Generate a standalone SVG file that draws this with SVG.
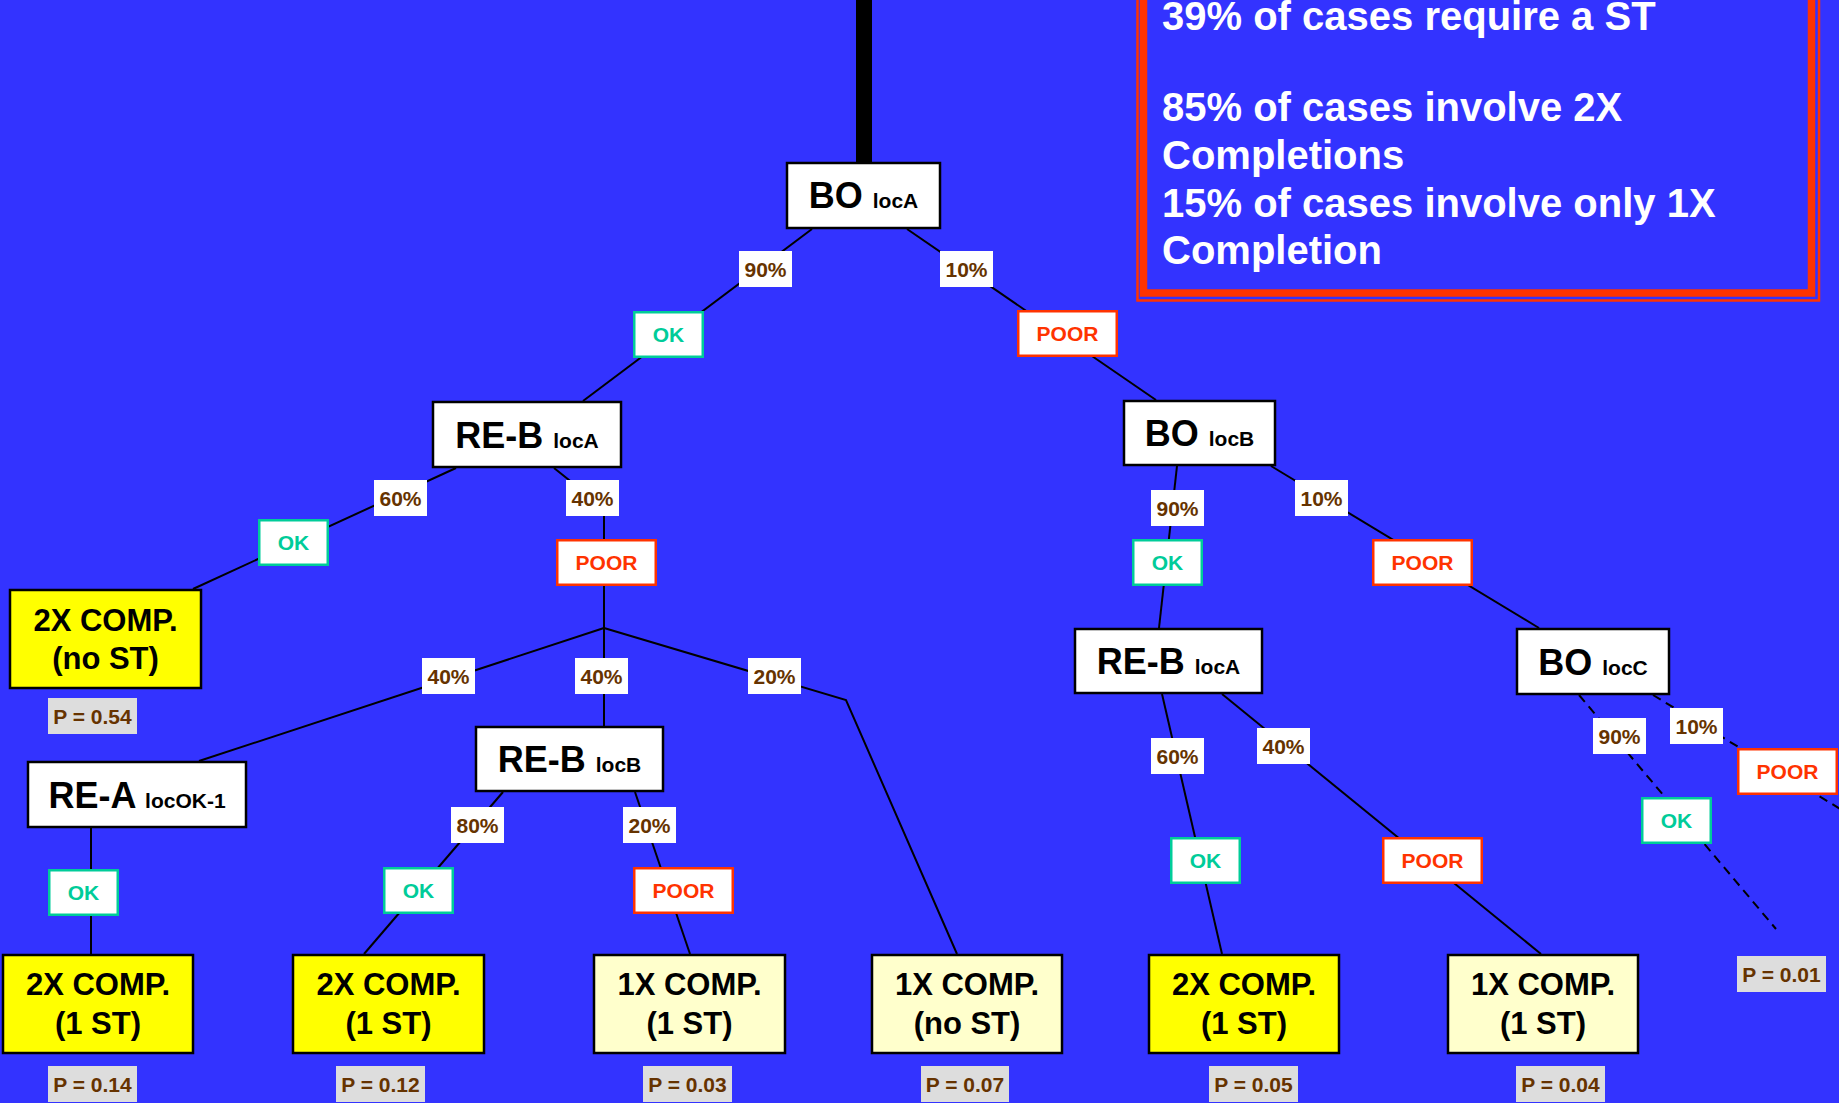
<svg xmlns="http://www.w3.org/2000/svg" width="1839" height="1103" viewBox="0 0 1839 1103">
<style>
text{font-family:"Liberation Sans",Arial,sans-serif;font-weight:bold}
.node rect{fill:#fff;stroke:#000;stroke-width:2.5}
.node text{fill:#000;text-anchor:middle}
.big{font-size:36px}
.sub{font-size:21px}
.leaf rect{stroke:#000;stroke-width:2.5}
.leaf text{fill:#000;font-size:31px;text-anchor:middle}
.y2 rect{fill:#FFFF00}
.y1 rect{fill:#FFFFCC}
.pct rect{fill:#fff}
.pct text{fill:#663300;font-size:21px;text-anchor:middle}
.ok rect{fill:#fff;stroke:#00CC99;stroke-width:2.5}
.ok text{fill:#00CC99;font-size:21px;text-anchor:middle}
.poor rect{fill:#fff;stroke:#FF3300;stroke-width:2.5}
.poor text{fill:#FF3300;font-size:21px;text-anchor:middle}
.prob rect{fill:#DDDDDD}
.prob text{fill:#663300;font-size:21px;text-anchor:middle}
.conn line,.conn polyline{stroke:#000;stroke-width:2;fill:none}
.conn .dash{stroke-dasharray:9 6}
.note text{fill:#fff;font-size:40px}
</style>
<rect x="0" y="0" width="1839" height="1103" fill="#3333FF"/>

<g id="note" class="note">
<rect x="1137.5" y="-10" width="681.5" height="310.5" fill="none" stroke="#FF3300" stroke-width="2.5"/>
<rect x="1143.5" y="-10" width="668" height="303" fill="none" stroke="#FF3300" stroke-width="7.5"/>
<text x="1162" y="30">39% of cases require a ST</text>
<text x="1162" y="121">85% of cases involve 2X</text>
<text x="1162" y="169">Completions</text>
<text x="1162" y="217">15% of cases involve only 1X</text>
<text x="1162" y="264">Completion</text>
</g>

<g id="connectors" class="conn">
<line x1="864" y1="0" x2="864" y2="163" style="stroke-width:16"/>
<line x1="812" y1="229" x2="583" y2="401"/>
<line x1="907" y1="229" x2="1156" y2="400"/>
<line x1="456" y1="468" x2="193" y2="589"/>
<polyline points="554,468 604,508 604,628"/>
<line x1="604" y1="628" x2="199" y2="761"/>
<line x1="604" y1="628" x2="604" y2="726"/>
<polyline points="604,628 846,700 957,954"/>
<line x1="91" y1="828" x2="91" y2="954"/>
<line x1="503" y1="792" x2="364" y2="954"/>
<line x1="635" y1="792" x2="690" y2="954"/>
<line x1="1177" y1="466" x2="1159" y2="628"/>
<line x1="1271" y1="466" x2="1539" y2="628"/>
<line x1="1162" y1="694" x2="1222" y2="954"/>
<line x1="1222" y1="694" x2="1541" y2="954"/>
<line class="dash" x1="1579" y1="695" x2="1776" y2="929"/>
<line class="dash" x1="1653" y1="695" x2="1860" y2="821"/>
</g>

<g id="n-bo-loca" class="node"><rect x="787" y="163" width="153" height="65"/><text x="863.5" y="208"><tspan class="big">BO </tspan><tspan class="sub">locA</tspan></text></g>
<g id="n-reb-loca-l" class="node"><rect x="433" y="402" width="188" height="65"/><text x="527" y="448"><tspan class="big">RE-B </tspan><tspan class="sub">locA</tspan></text></g>
<g id="n-bo-locb" class="node"><rect x="1124" y="401" width="151" height="64"/><text x="1199.5" y="446"><tspan class="big">BO </tspan><tspan class="sub">locB</tspan></text></g>
<g id="n-reb-loca-r" class="node"><rect x="1075" y="629" width="187" height="64"/><text x="1168.5" y="674"><tspan class="big">RE-B </tspan><tspan class="sub">locA</tspan></text></g>
<g id="n-bo-locc" class="node"><rect x="1517" y="629" width="152" height="65"/><text x="1593" y="675"><tspan class="big">BO </tspan><tspan class="sub">locC</tspan></text></g>
<g id="n-reb-locb" class="node"><rect x="476" y="727" width="187" height="64"/><text x="569.5" y="772"><tspan class="big">RE-B </tspan><tspan class="sub">locB</tspan></text></g>
<g id="n-rea" class="node"><rect x="28" y="762" width="218" height="65"/><text x="137" y="808"><tspan class="big">RE-A </tspan><tspan class="sub">locOK-1</tspan></text></g>

<g id="leaf-1" class="leaf y2"><rect x="10" y="590" width="191" height="98"/><text x="105.5" y="631">2X COMP.</text><text x="105.5" y="669">(no ST)</text></g>
<g id="leaf-2" class="leaf y2"><rect x="3" y="955" width="190" height="98"/><text x="98" y="995">2X COMP.</text><text x="98" y="1034">(1 ST)</text></g>
<g id="leaf-3" class="leaf y2"><rect x="293" y="955" width="191" height="98"/><text x="388.5" y="995">2X COMP.</text><text x="388.5" y="1034">(1 ST)</text></g>
<g id="leaf-4" class="leaf y1"><rect x="594" y="955" width="191" height="98"/><text x="689.5" y="995">1X COMP.</text><text x="689.5" y="1034">(1 ST)</text></g>
<g id="leaf-5" class="leaf y1"><rect x="872" y="955" width="190" height="98"/><text x="967" y="995">1X COMP.</text><text x="967" y="1034">(no ST)</text></g>
<g id="leaf-6" class="leaf y2"><rect x="1149" y="955" width="190" height="98"/><text x="1244" y="995">2X COMP.</text><text x="1244" y="1034">(1 ST)</text></g>
<g id="leaf-7" class="leaf y1"><rect x="1448" y="955" width="190" height="98"/><text x="1543" y="995">1X COMP.</text><text x="1543" y="1034">(1 ST)</text></g>

<g id="p-054" class="prob"><rect x="48" y="698" width="89" height="36"/><text x="92.5" y="724">P = 0.54</text></g>
<g id="p-014" class="prob"><rect x="48" y="1066" width="89" height="36"/><text x="92.5" y="1092">P = 0.14</text></g>
<g id="p-012" class="prob"><rect x="336" y="1066" width="89" height="36"/><text x="380.5" y="1092">P = 0.12</text></g>
<g id="p-003" class="prob"><rect x="643" y="1066" width="89" height="36"/><text x="687.5" y="1092">P = 0.03</text></g>
<g id="p-007" class="prob"><rect x="921" y="1066" width="88" height="36"/><text x="965" y="1092">P = 0.07</text></g>
<g id="p-005" class="prob"><rect x="1209" y="1066" width="89" height="36"/><text x="1253.5" y="1092">P = 0.05</text></g>
<g id="p-004" class="prob"><rect x="1516" y="1066" width="89" height="36"/><text x="1560.5" y="1092">P = 0.04</text></g>
<g id="p-001" class="prob"><rect x="1737" y="956" width="89" height="36"/><text x="1781.5" y="982">P = 0.01</text></g>

<g id="pct-1" class="pct"><rect x="739" y="251" width="53" height="36"/><text x="765.5" y="276.5">90%</text></g>
<g id="pct-2" class="pct"><rect x="940" y="251" width="53" height="36"/><text x="966.5" y="276.5">10%</text></g>
<g id="pct-3" class="pct"><rect x="374" y="480" width="53" height="36"/><text x="400.5" y="505.5">60%</text></g>
<g id="pct-4" class="pct"><rect x="566" y="480" width="53" height="36"/><text x="592.5" y="505.5">40%</text></g>
<g id="pct-5" class="pct"><rect x="422" y="658" width="53" height="36"/><text x="448.5" y="683.5">40%</text></g>
<g id="pct-6" class="pct"><rect x="575" y="658" width="53" height="36"/><text x="601.5" y="683.5">40%</text></g>
<g id="pct-7" class="pct"><rect x="748" y="658" width="53" height="36"/><text x="774.5" y="683.5">20%</text></g>
<g id="pct-8" class="pct"><rect x="451" y="807" width="53" height="36"/><text x="477.5" y="832.5">80%</text></g>
<g id="pct-9" class="pct"><rect x="623" y="807" width="53" height="36"/><text x="649.5" y="832.5">20%</text></g>
<g id="pct-10" class="pct"><rect x="1151" y="490" width="53" height="36"/><text x="1177.5" y="515.5">90%</text></g>
<g id="pct-11" class="pct"><rect x="1295" y="480" width="53" height="36"/><text x="1321.5" y="505.5">10%</text></g>
<g id="pct-12" class="pct"><rect x="1151" y="738" width="53" height="36"/><text x="1177.5" y="763.5">60%</text></g>
<g id="pct-13" class="pct"><rect x="1257" y="728" width="53" height="36"/><text x="1283.5" y="753.5">40%</text></g>
<g id="pct-14" class="pct"><rect x="1593" y="718" width="53" height="36"/><text x="1619.5" y="743.5">90%</text></g>
<g id="pct-15" class="pct"><rect x="1670" y="708" width="53" height="36"/><text x="1696.5" y="733.5">10%</text></g>

<g id="ok-1" class="ok"><rect x="634.25" y="312.25" width="68.5" height="44.5"/><text x="668.5" y="342">OK</text></g>
<g id="ok-2" class="ok"><rect x="259.25" y="520.25" width="68.5" height="44.5"/><text x="293.5" y="550">OK</text></g>
<g id="ok-3" class="ok"><rect x="49.25" y="870.25" width="68.5" height="44.5"/><text x="83.5" y="900">OK</text></g>
<g id="ok-4" class="ok"><rect x="384.25" y="868.25" width="68.5" height="44.5"/><text x="418.5" y="898">OK</text></g>
<g id="ok-5" class="ok"><rect x="1133.25" y="540.25" width="68.5" height="44.5"/><text x="1167.5" y="570">OK</text></g>
<g id="ok-6" class="ok"><rect x="1171.25" y="838.25" width="68.5" height="44.5"/><text x="1205.5" y="868">OK</text></g>
<g id="ok-7" class="ok"><rect x="1642.25" y="798.25" width="68.5" height="44.5"/><text x="1676.5" y="828">OK</text></g>

<g id="poor-1" class="poor"><rect x="1018.25" y="311.25" width="98.5" height="44.5"/><text x="1067.5" y="341">POOR</text></g>
<g id="poor-2" class="poor"><rect x="557.25" y="540.25" width="98.5" height="44.5"/><text x="606.5" y="570">POOR</text></g>
<g id="poor-3" class="poor"><rect x="634.25" y="868.25" width="98.5" height="44.5"/><text x="683.5" y="898">POOR</text></g>
<g id="poor-4" class="poor"><rect x="1373.25" y="540.25" width="98.5" height="44.5"/><text x="1422.5" y="570">POOR</text></g>
<g id="poor-5" class="poor"><rect x="1383.25" y="838.25" width="98.5" height="44.5"/><text x="1432.5" y="868">POOR</text></g>
<g id="poor-6" class="poor"><rect x="1738.25" y="749.25" width="98.5" height="44.5"/><text x="1787.5" y="779">POOR</text></g>
</svg>
